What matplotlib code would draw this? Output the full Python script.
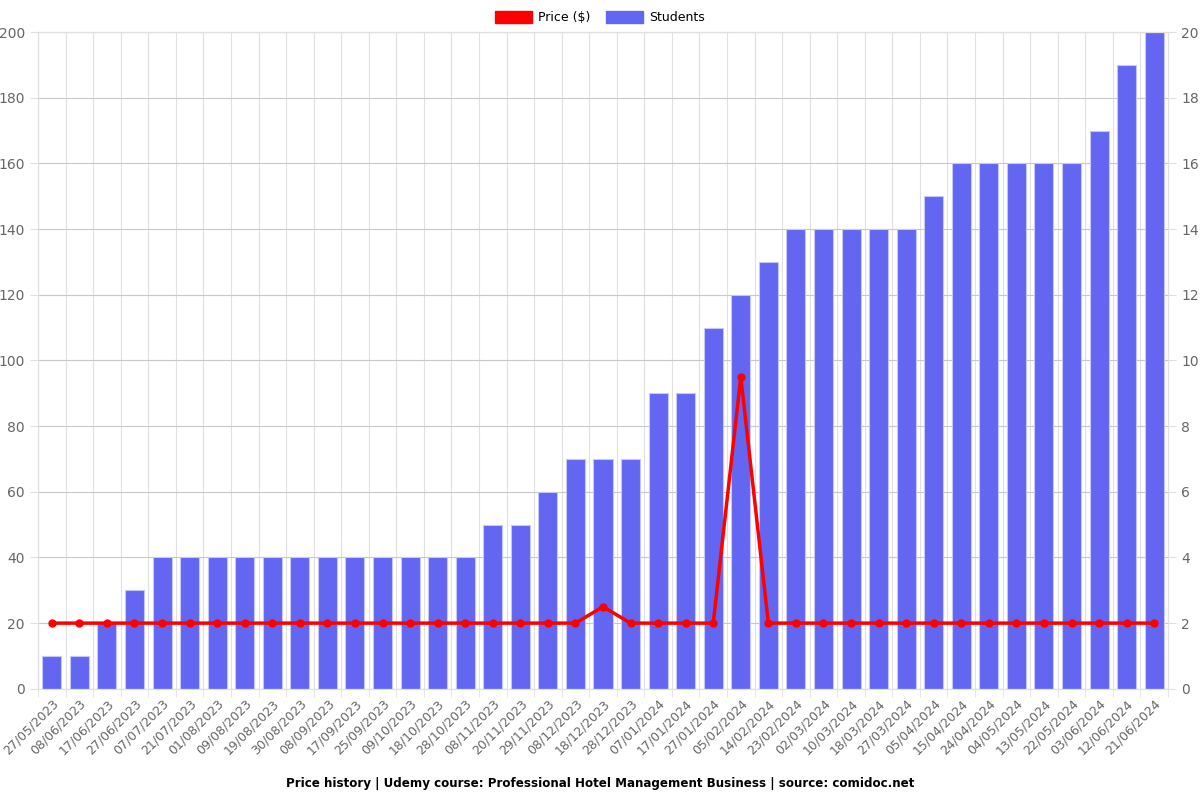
import matplotlib.pyplot as plt
import matplotlib.patches as mpatches
import numpy as np

dates = ['27/05/2023', '08/06/2023', '17/06/2023', '27/06/2023', '07/07/2023',
         '21/07/2023', '01/08/2023', '09/08/2023', '19/08/2023', '30/08/2023',
         '08/09/2023', '17/09/2023', '25/09/2023', '09/10/2023', '18/10/2023',
         '28/10/2023', '08/11/2023', '20/11/2023', '29/11/2023', '08/12/2023',
         '18/12/2023', '28/12/2023', '07/01/2024', '17/01/2024', '27/01/2024',
         '05/02/2024', '14/02/2024', '23/02/2024', '02/03/2024', '10/03/2024',
         '18/03/2024', '27/03/2024', '05/04/2024', '15/04/2024', '24/04/2024',
         '04/05/2024', '13/05/2024', '22/05/2024', '03/06/2024', '12/06/2024',
         '21/06/2024']
students = [1, 1, 2, 3, 4, 4, 4, 4, 4, 4, 4, 4, 4, 4, 4, 4, 5, 5, 6, 7, 7, 7,
            9, 9, 11, 12, 13, 14, 14, 14, 14, 14, 15, 16, 16, 16, 16, 16, 17, 19, 20]
price = [20, 20, 20, 20, 20, 20, 20, 20, 20, 20, 20, 20, 20, 20, 20, 20, 20, 20,
         20, 20, 24.99, 20, 20, 20, 20, 94.99, 20, 20, 20, 20, 20, 20, 20, 20, 20,
         20, 20, 20, 20, 20, 20]

x = np.arange(len(dates))
grid_c = '#e0e0e0'
tick_c = '#666666'
bar_c = '#6366f1'

fig = plt.figure(figsize=(12, 8), dpi=100)
ax = fig.add_axes([0.0317, 0.139, 0.9416, 0.821])
ax2 = ax.twinx()

ax2.bar(x, students, width=0.69, color=bar_c, edgecolor='#c5c6fa', linewidth=0.8)
ax2.set_ylim(0, 20)
ax2.set_yticks(range(0, 21, 2))

ax.plot(x, price, color='red', linewidth=2.5, marker='o', markersize=5, zorder=3)
ax.set_ylim(0, 200)
ax.set_yticks(range(0, 201, 20))
ax.set_zorder(ax2.get_zorder() + 1)
ax.patch.set_visible(False)

ax.set_xlim(-0.5, len(dates) - 0.5)
ax.set_xticks(x)
ax.set_xticklabels(dates, rotation=45, ha='right', rotation_mode='anchor',
                   fontsize=9, color=tick_c)
ax.tick_params(axis='x', length=0, pad=6)
ax.set_xticks(np.arange(-0.5, len(dates)), minor=True)
ax.tick_params(axis='x', which='minor', length=6, color=grid_c)

for a in (ax, ax2):
    a.tick_params(axis='y', labelsize=10, labelcolor=tick_c, length=6, color=grid_c)
    for s in a.spines.values():
        s.set_color(grid_c)

# grid on the bar axis so it sits under the bars
for v in np.arange(-0.5, len(dates)):
    ax2.axvline(v, color=grid_c, linewidth=0.8, zorder=0)
for h in range(0, 21, 2):
    ax2.axhline(h, color='#c8c8c8', linewidth=0.8, zorder=0)

handles = [mpatches.Patch(color='red', label='Price ($)'),
           mpatches.Patch(color=bar_c, label='Students')]
fig.legend(handles=handles, loc='upper center', bbox_to_anchor=(0.5, 1.0),
           ncol=2, frameon=False, fontsize=9, handlelength=3, handleheight=1,
           columnspacing=1.2, handletextpad=0.5)

fig.text(0.5, 0.016, 'Price history | Udemy course: Professional Hotel Management Business | source: comidoc.net',
         ha='center', fontsize=8.6, fontweight='bold')

fig.savefig('out.png', dpi=100)
